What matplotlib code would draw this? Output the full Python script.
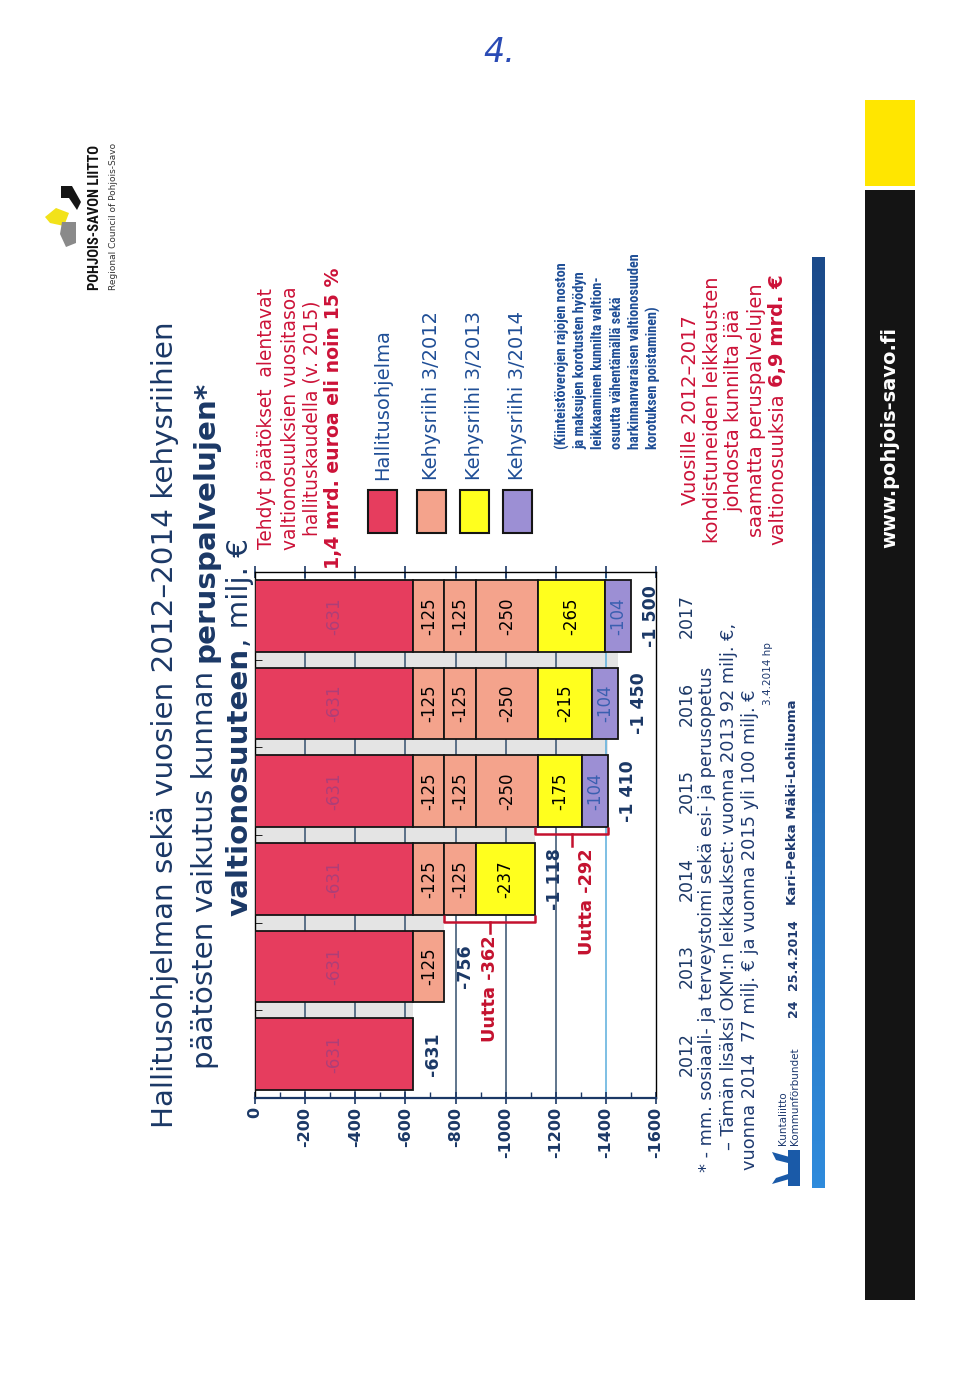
import matplotlib
matplotlib.use("Agg")
import matplotlib.pyplot as plt
from matplotlib import font_manager
from matplotlib.patches import Rectangle, Polygon
from matplotlib.ticker import MultipleLocator, FixedLocator
from matplotlib.colors import LinearSegmentedColormap
import numpy as np

plt.rcParams['font.family'] = ['DejaVu Sans']
plt.rcParams['axes.unicode_minus'] = False

# ---------------- data ----------------
years = ["2012", "2013", "2014", "2015", "2016", "2017"]
hallitusohjelma = [-631, -631, -631, -631, -631, -631]
kehys2012_a = [0, -125, -125, -125, -125, -125]
kehys2012_b = [0, 0, -125, -125, -125, -125]
kehys2012_c = [0, 0, 0, -250, -250, -250]
kehys2013 = [0, 0, -237, -175, -215, -265]
kehys2014 = [0, 0, 0, -104, -104, -104]
total_labels = ["-631", "-756", "-1 118", "-1 410", "-1 450", "-1 500"]
new_labels = ["Uutta -362", "Uutta -292"]
new_years = [2, 3]
value_ticks = [0, -200, -400, -600, -800, -1000, -1200, -1400, -1600]
legend_labels = ["Hallitusohjelma", "Kehysriihi 3/2012", "Kehysriihi 3/2013", "Kehysriihi 3/2014"]

# ---------------- styles ----------------
W, H, DPI = 960, 1399, 100
NAVY = "#1B3866"
BLUE = "#1F4E96"
REDTXT = "#CC1238"
RED = "#E63D5E"
SALMON = "#F4A38C"
YELLOW = "#FFFF1E"
PURPLE = "#9C8FD4"

# pick a narrow family (preferably with a bold face) if one is installed
cands = {}
for f in font_manager.fontManager.ttflist:
    if "Narrow" in f.name or "Condensed" in f.name:
        w = f.weight if isinstance(f.weight, int) else (700 if "bold" in str(f.weight) else 400)
        cands.setdefault(f.name, set()).add(w)
NARROW, NSCALE = None, 1.0
prio = ["Liberation Sans Narrow", "Roboto Condensed", "Open Sans Condensed", "DejaVu Sans Condensed"]
for n in prio + sorted(cands):
    if n in cands and max(cands[n]) >= 600:
        NARROW = n
        break
if NARROW is None and cands:
    NARROW = sorted(cands)[0]
if NARROW is None:
    names = {f.name for f in font_manager.fontManager.ttflist}
    NARROW = "Lato" if "Lato" in names else "DejaVu Sans"
    NSCALE = 0.88 if NARROW == "Lato" else 0.8

fig = plt.figure(figsize=(W / DPI, H / DPI), dpi=DPI)
fig.patch.set_facecolor("white")
R = fig.canvas.get_renderer()


def fx(x):
    return x / W


def fy(y):
    return 1 - y / H


def put(x, y, s, size, color, weight="normal", ha="center", family="DejaVu Sans", **kw):
    return fig.text(fx(x), fy(y), s, rotation=90, rotation_mode="anchor", ha=ha,
                    va="center", fontsize=size, color=color, fontweight=weight,
                    family=family, **kw)


def rline(x, y, segs, size, color, ha="center", family="DejaVu Sans"):
    items = []
    total = 0.0
    sp = size * DPI / 72 * 0.32
    for k, (s, wgt) in enumerate(segs):
        t = fig.text(0, 0, s.strip(), rotation=90, rotation_mode="anchor", ha="left",
                     va="center", fontsize=size, color=color, fontweight=wgt, family=family)
        L = t.get_window_extent(R).height
        gap = sp if (k < len(segs) - 1 and (s.endswith(" ") or segs[k + 1][0].startswith(" "))) else 0
        items.append((t, total))
        total += L + gap
    start = y + total / 2 if ha == "center" else y
    for t, off in items:
        t.set_position((fx(x), fy(start - off)))


# ---------------- chart ----------------
ax = fig.add_axes([fx(255), fy(1098), (656 - 255) / W, (1098 - 572) / H])
ax.set_xlim(0, -1600)
ax.set_ylim(-0.5, 5.5)
pos = np.arange(len(years))

series = [hallitusohjelma, kehys2012_a, kehys2012_b, kehys2012_c, kehys2013, kehys2014]
colors = [RED, SALMON, SALMON, SALMON, YELLOW, PURPLE]
lab_colors = ["#9B3F80", "black", "black", "black", "black", "#3A5FB0"]
BH = 0.82
left = np.zeros(len(years))
for vals, c, lc in zip(series, colors, lab_colors):
    v = np.array(vals, dtype=float)
    m = v != 0
    ax.barh(pos[m], v[m], left=left[m], height=BH, color=c, edgecolor="#151515",
            linewidth=1.3, zorder=3)
    for i in pos[m]:
        ax.text(left[i] + v[i] / 2, i, f"{int(v[i])}", rotation=90, ha="center",
                va="center", fontsize=12, color=lc, zorder=5,
                alpha=0.75 if c == RED else 1)
    left = left + v
totals = left

# grey floor in gaps
for i in range(len(years) - 1):
    ax.barh(i + 0.5, max(totals[i], totals[i + 1]), height=1 - BH, color="#E4E4E4",
            zorder=1, linewidth=0)

for v in value_ticks[1:-1]:
    ax.axvline(v, color="#5AAEDD" if v == -1400 else "#34506E", lw=1.1, zorder=1.5)

for i, lab in enumerate(total_labels):
    ax.annotate(lab, xy=(totals[i], i), xytext=(8, 0), textcoords="offset points",
                rotation=90, ha="left", va="center", fontsize=12.5, fontweight="bold",
                color=NAVY, zorder=6)

dxs = [0, 11]
for lab, yi, dx in zip(new_labels, new_years, dxs):
    a, b = totals[yi - 1], totals[yi]
    yb = yi - BH / 2
    yl = yb - 0.08
    ax.plot([a, a, b, b], [yb, yl, yl, yb], color="#C4122F", lw=1.8, zorder=6,
            solid_capstyle="butt")
    mid = (a + b) / 2
    ax.plot([mid, mid], [yl, yl - 0.13], color="#C4122F", lw=1.8, zorder=6)
    ax.annotate(lab, xy=(mid, yl - 0.13), xytext=(dx, -2), textcoords="offset points",
                rotation=90, ha="center", va="top", fontsize=12.8, fontweight="bold",
                color="#C4122F", zorder=6)

ax.set_xticks(value_ticks)
ax.set_xticklabels([str(v) for v in value_ticks])
ax.xaxis.set_minor_locator(MultipleLocator(100))
ax.tick_params(axis="x", which="major", direction="inout", length=9, width=1.2,
               color=NAVY, top=True, bottom=True, labelsize=11.5, labelcolor=NAVY,
               labelrotation=90, pad=2)
ax.tick_params(axis="x", which="minor", direction="in", length=4, width=1,
               color=NAVY, top=False, bottom=True)
for t in ax.get_xticklabels():
    t.set_fontweight("bold")

ax.set_yticks(pos)
ax.set_yticklabels(years)
ax.yaxis.set_minor_locator(FixedLocator(pos[:-1] + 0.5))
ax.tick_params(axis="y", which="major", left=False, right=False, labelleft=False,
               labelright=True, labelrotation=90, labelsize=12.5, labelcolor=NAVY, pad=12)
ax.tick_params(axis="y", which="minor", direction="in", length=5, left=True,
               right=False, color="black")
for t in ax.get_yticklabels():
    t.set_va("center")

for s in ax.spines.values():
    s.set_color("black")
    s.set_linewidth(1.0)
ax.spines["bottom"].set_color(NAVY)
ax.spines["bottom"].set_linewidth(1.6)
ax.set_facecolor("white")

# ---------------- title ----------------
TS = 21.2
rline(165, 725, [("Hallitusohjelman sekä vuosien 2012–2014 kehysriihien", "normal")], TS, NAVY)
rline(205, 725, [("päätösten vaikutus kunnan ", "normal"), ("peruspalvelujen*", "bold")], TS, NAVY)
rline(240, 727, [("valtionosuuteen", "bold"), (", milj. €", "normal")], TS, NAVY)

# red statement
for xx, s, w, sz in [(267, "Tehdyt päätökset  alentavat", "normal", 13.4),
                     (290, "valtionosuuksien vuositasoa", "normal", 13.4),
                     (312, "hallituskaudella (v. 2015)", "normal", 13.4),
                     (334, "1,4 mrd. euroa eli noin 15 %", "bold", 13.6)]:
    put(xx, 418, s, sz, REDTXT, weight=w)

# legend
sw_x = [368, 417, 460, 503]
sw_c = [RED, SALMON, YELLOW, PURPLE]
for x0, c, lab in zip(sw_x, sw_c, legend_labels):
    fig.add_artist(Rectangle((fx(x0), fy(533)), 29 / W, 43 / H, transform=fig.transFigure,
                             facecolor=c, edgecolor="#151515", linewidth=1.5))
    put(x0 + 14.5, 480, lab, 14, BLUE, ha="left")

paren = ["(Kiinteistöverojen rajojen noston",
         "ja maksujen korotusten hyödyn",
         "leikkaaminen kunnilta valtion-",
         "osuutta vähentämällä sekä",
         "harkinnanvaraisen valtionosuuden",
         "korotuksen poistaminen)"]
for k, s in enumerate(paren):
    put(562 + k * 18.2, 449, s, 10.3 * NSCALE, BLUE, weight="bold", ha="left", family=NARROW)

# red conclusion
for xx, segs in [(690, [("Vuosille 2012–2017", "normal")]),
                 (712, [("kohdistuneiden leikkausten", "normal")]),
                 (734, [("johdosta kunnilta jää", "normal")]),
                 (756, [("saamatta peruspalvelujen", "normal")]),
                 (778, [("valtionosuuksia ", "normal"), ("6,9 mrd. €", "bold")])]:
    rline(xx, 410, segs, 14, REDTXT)

# footnote
FN = "#1E3A70"
FS = 12.8
put(707, 1172, "* - mm. sosiaali- ja terveystoimi sekä esi- ja perusopetus", FS, FN, ha="left")
put(729, 1150, "– Tämän lisäksi OKM:n leikkaukset: vuonna 2013 92 milj. €,", FS, FN, ha="left")
put(750, 1170, "vuonna 2014  77 milj. € ja vuonna 2015 yli 100 milj. €", FS, FN, ha="left")
put(768, 705, "3.4.2014 hp", 7.5, FN, ha="left")
put(783, 1145, "Kuntaliitto", 7.5, FN, ha="left")
put(795, 1145, "Kommunförbundet", 7.5, FN, ha="left")
put(793, 1008, "24", 9, FN, weight="bold")
put(793, 955, "25.4.2014", 9, FN, weight="bold")
put(793, 905, "Kari-Pekka Mäki-Lohiluoma", 9.5, FN, weight="bold", ha="left")

# Kuntaliitto logo
KB = "#1A5AA8"
for pts in [[(772, 1152), (800, 1160), (800, 1166), (776, 1160)],
            [(772, 1184), (800, 1176), (800, 1170), (776, 1178)],
            [(788, 1150), (800, 1150), (800, 1186), (788, 1186)]]:
    fig.add_artist(Polygon([(fx(a), fy(b)) for a, b in pts], closed=True,
                           transform=fig.transFigure, facecolor=KB, edgecolor="none"))

# blue gradient bar
axb = fig.add_axes([fx(812), fy(1188), 13 / W, (1188 - 257) / H])
axb.imshow(np.linspace(0, 1, 256)[:, None], aspect="auto",
           cmap=LinearSegmentedColormap.from_list("bb", ["#1B4A8A", "#2F8BDC"]))
axb.axis("off")

# right band
fig.add_artist(Rectangle((fx(865), fy(186)), 50 / W, 86 / H, transform=fig.transFigure,
                         facecolor="#FFE600", edgecolor="none"))
fig.add_artist(Rectangle((fx(865), fy(1300)), 50 / W, (1300 - 190) / H, transform=fig.transFigure,
                         facecolor="#141414", edgecolor="none"))
put(890, 437, "www.pohjois-savo.fi", 14, "white", weight="semibold")

# Pohjois-Savo logo
put(95, 290, "POHJOIS-SAVON LIITTO", 10.5 * NSCALE, "#111111", weight="bold", ha="left", family=NARROW)
put(113, 290, "Regional Council of Pohjois-Savo", 6.5, "#333333", ha="left")
for pts, c in [([(61, 186), (72, 186), (81, 202), (77, 210), (69, 198), (61, 198)], "#151515"),
               ([(45, 217), (56, 208), (69, 213), (64, 226), (50, 223)], "#F2E21A"),
               ([(62, 222), (76, 222), (76, 243), (66, 247), (60, 234)], "#8A8A8A")]:
    fig.add_artist(Polygon([(fx(a), fy(b)) for a, b in pts], closed=True,
                           transform=fig.transFigure, facecolor=c, edgecolor="none"))

# handwritten page number
fig.text(fx(499), fy(52), "4.", fontsize=24, color="#2A4BB5", style="italic",
         ha="center", va="center", fontweight="light")

fig.savefig("out.png", dpi=DPI, facecolor="white")
